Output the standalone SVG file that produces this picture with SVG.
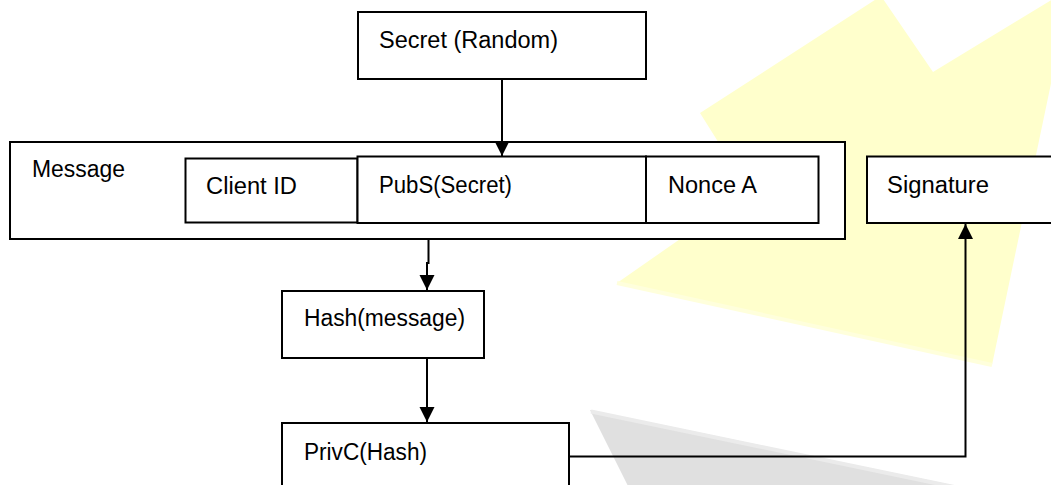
<svg xmlns="http://www.w3.org/2000/svg" width="1051" height="485" viewBox="0 0 1051 485">
  <style>
    .box { fill: #ffffff; stroke: #000000; stroke-width: 2; }
    .lbl { font-family: "Liberation Sans", Arial, sans-serif; font-size: 23px; fill: #000000; }
    .conn { fill: none; stroke: #000000; stroke-width: 2; }
  </style>
  <defs>
    <marker id="arrow" markerUnits="userSpaceOnUse" markerWidth="16" markerHeight="16" viewBox="0 0 16 16" refX="15" refY="8" orient="auto">
      <path d="M0,0.5 L15,8 L0,15.5 Z" fill="#000000"/>
    </marker>
  </defs>

  <g id="background">
    <polygon points="700,113 881,-4 933,72 1071,-12 992,365 617,283 749,191" fill="#ffffcc"/>
    <line x1="617" y1="283" x2="992" y2="365" stroke="#ffffdc" stroke-width="4"/>
    <polygon points="590,410 1000,495 1000,520 645,520" fill="#e0e0e0"/>
    <line x1="591" y1="411.5" x2="1000" y2="496.5" stroke="#ebebeb" stroke-width="4"/>
  </g>

  <g id="secret">
    <rect class="box" x="358" y="12" width="288" height="67"/>
    <text class="lbl" x="379" y="48" textLength="179" lengthAdjust="spacingAndGlyphs">Secret (Random)</text>
  </g>

  <g id="message">
    <rect class="box" x="10" y="142" width="835" height="97"/>
    <text class="lbl" x="32" y="177" textLength="93" lengthAdjust="spacingAndGlyphs">Message</text>
  </g>

  <g id="client-id">
    <rect class="box" x="185.5" y="158.5" width="172" height="64"/>
    <text class="lbl" x="206" y="194" textLength="91" lengthAdjust="spacingAndGlyphs">Client ID</text>
  </g>

  <g id="pubs">
    <rect class="box" x="357.5" y="156.5" width="288.5" height="66.5"/>
    <text class="lbl" x="379" y="193" textLength="133" lengthAdjust="spacingAndGlyphs">PubS(Secret)</text>
  </g>

  <g id="nonce">
    <rect class="box" x="646" y="156.5" width="172.5" height="66.5"/>
    <text class="lbl" x="668" y="193" textLength="89" lengthAdjust="spacingAndGlyphs">Nonce A</text>
  </g>

  <g id="signature">
    <rect class="box" x="867" y="156.5" width="200" height="66.5"/>
    <text class="lbl" x="887" y="193" textLength="102" lengthAdjust="spacingAndGlyphs">Signature</text>
  </g>

  <g id="hash">
    <rect class="box" x="282" y="291" width="202" height="67"/>
    <text class="lbl" x="304" y="326" textLength="161" lengthAdjust="spacingAndGlyphs">Hash(message)</text>
  </g>

  <g id="privc">
    <rect class="box" x="282" y="423" width="287" height="80"/>
    <text class="lbl" x="304" y="460" textLength="123" lengthAdjust="spacingAndGlyphs">PrivC(Hash)</text>
  </g>

  <g id="connectors">
    <path class="conn" d="M502,79 V156" marker-end="url(#arrow)"/>
    <path class="conn" d="M428.5,240 V263 H427 V290" marker-end="url(#arrow)"/>
    <path class="conn" d="M427,358 V422" marker-end="url(#arrow)"/>
    <path class="conn" d="M569,456.5 H965.5 V224" marker-end="url(#arrow)"/>
  </g>
</svg>
